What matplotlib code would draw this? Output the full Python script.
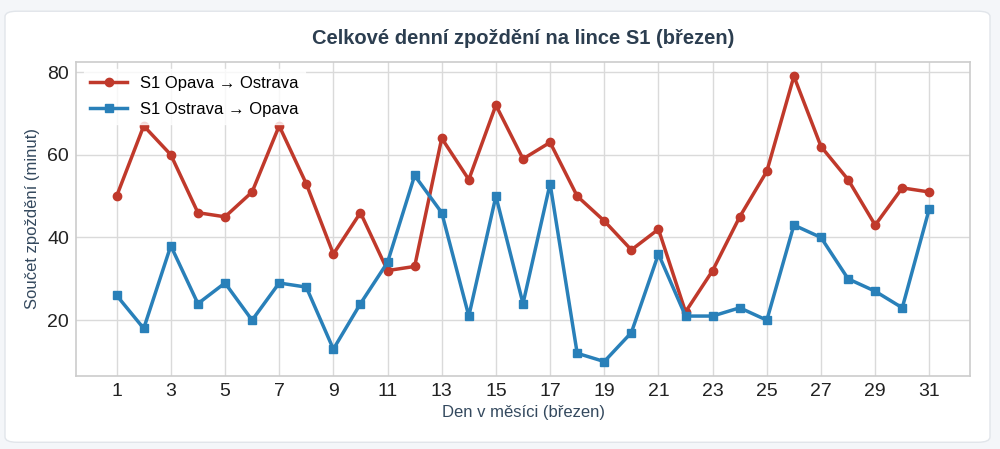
import matplotlib
matplotlib.use("Agg")
import matplotlib.pyplot as plt
from matplotlib.patches import FancyBboxPatch

days = list(range(1, 32))
opava_ostrava = [50, 67, 60, 46, 45, 51, 67, 53, 36, 46, 32, 33, 64, 54, 72, 59,
                 63, 50, 44, 37, 42, 22, 32, 45, 56, 79, 62, 54, 43, 52, 51]
ostrava_opava = [26, 18, 38, 24, 29, 20, 29, 28, 13, 24, 34, 55, 46, 21, 50, 24,
                 53, 12, 10, 17, 36, 21, 21, 23, 20, 43, 40, 30, 27, 23, 47]
xticks = list(range(1, 32, 2))
yticks = [20, 40, 60, 80]

title = "Celkové denní zpoždění na lince S1 (březen)"
xlabel = "Den v měsíci (březen)"
ylabel = "Součet zpoždění (minut)"
label_a = "S1 Opava → Ostrava"
label_b = "S1 Ostrava → Opava"

plt.rcParams['font.family'] = ['Liberation Sans', 'DejaVu Sans']

fig = plt.figure(figsize=(10, 4.49), dpi=100)
fig.patch.set_facecolor('#f4f6f9')
card = FancyBboxPatch((0.005, 0.015), 0.985, 0.96, boxstyle="round,pad=0,rounding_size=0.012",
                      transform=fig.transFigure, facecolor='white', edgecolor='#e1e5ea',
                      linewidth=1.0, zorder=-10)
fig.patches.append(card)

ax = fig.add_axes([0.076, 0.163, 0.894, 0.699])
ax.set_zorder(1)
ax.set_facecolor('white')
ax.plot(days, opava_ostrava, color='#c0392b', linewidth=2.5, marker='o', markersize=6,
        label=label_a, zorder=3)
ax.plot(days, ostrava_opava, color='#2980b9', linewidth=2.5, marker='s', markersize=6,
        label=label_b, zorder=3)

ax.set_xlim(-0.5, 32.5)
ax.set_ylim(6.55, 82.45)
ax.set_xticks(xticks)
ax.set_yticks(yticks)
ax.tick_params(axis='both', labelsize=14, colors='#222222', length=0, pad=5)
ax.grid(True, color='#dadada', linewidth=1.0)
ax.set_axisbelow(True)
for s in ax.spines.values():
    s.set_color('#cccccc')
    s.set_linewidth(1.2)

ax.set_title(title, fontsize=14.5, fontweight='bold', color='#2c3e50', pad=13)
ax.set_xlabel(xlabel, fontsize=12, color='#34495e', labelpad=4)
ax.set_ylabel(ylabel, fontsize=12, color='#34495e', labelpad=5)

leg = ax.legend(loc='upper left', fontsize=12, frameon=True, facecolor='white',
                edgecolor='white', framealpha=0.8, borderaxespad=0.45, handlelength=2.2,
                labelspacing=0.65)

fig.savefig('out.png', dpi=100, facecolor=fig.get_facecolor())
